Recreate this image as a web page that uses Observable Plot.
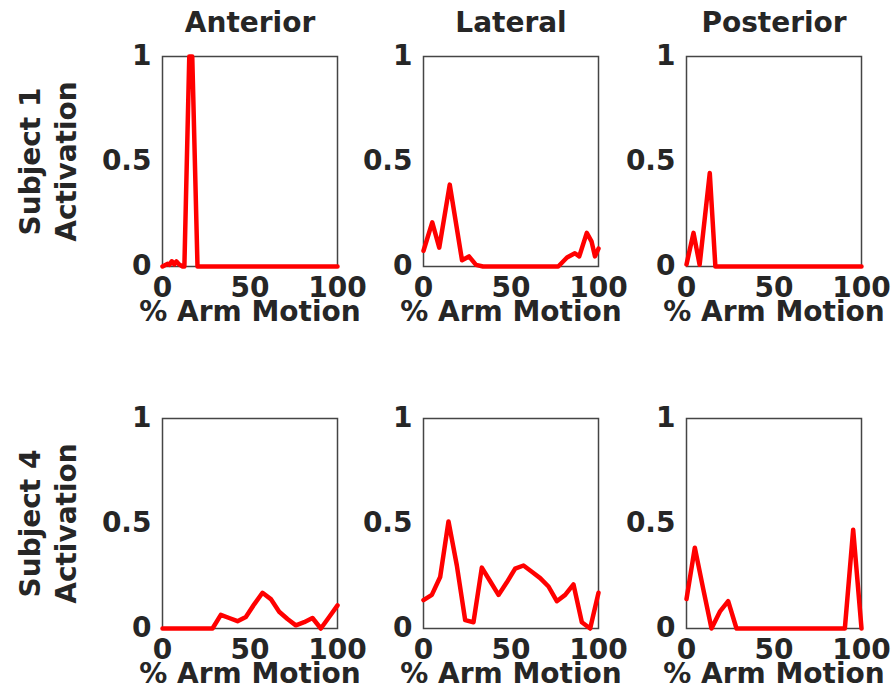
<!DOCTYPE html>
<html>
<head>
<meta charset="utf-8">
<script src="https://cdn.jsdelivr.net/npm/d3@7"></script>
<script src="https://cdn.jsdelivr.net/npm/@observablehq/plot@0.6"></script>
<style>
  html, body { margin: 0; padding: 0; background: #fff; }
  #chart { position: relative; width: 895px; height: 689px; overflow: hidden; }
  #chart svg { position: absolute; }
</style>
</head>
<body>
<div id="chart"></div>
<script>
// Column titles and row labels
const muscles = ["Anterior", "Lateral", "Posterior"];
const subjects = ["Subject 1", "Subject 4"];
const xTicks = [0, 50, 100];
const yTicks = [0, 0.5, 1];
const xLabel = "% Arm Motion";

// Subject 1 (irregular sampling)
const s1AntX = [0, 3, 4, 5.3, 6.7, 8, 9.5, 11.5, 12.5, 15.3, 17, 20, 100];
const s1AntY = [0, 0.013, 0.008, 0.025, 0.01, 0.024, 0.01, 0, 0, 1, 1, 0, 0];
const s1LatX = [0, 5, 9, 15, 22, 26, 30, 34, 77, 82, 86.5, 89, 93.3, 96, 98, 100];
const s1LatY = [0.075, 0.21, 0.09, 0.39, 0.03, 0.048, 0.008, 0, 0, 0.043, 0.063, 0.048, 0.16, 0.12, 0.048, 0.085];
const s1PostX = [0, 4, 7.5, 13.3, 16.5, 100];
const s1PostY = [0.01, 0.16, 0.008, 0.445, 0, 0];

// Subject 4 (22 samples across the motion)
const s4X = [0, 4.76, 9.52, 14.29, 19.05, 23.81, 28.57, 33.33, 38.10, 42.86, 47.62, 52.38, 57.14, 61.90, 66.67, 71.43, 76.19, 80.95, 85.71, 90.48, 95.24, 100];
const s4AntY = [0, 0, 0, 0, 0, 0, 0, 0.065, 0.05, 0.035, 0.055, 0.115, 0.17, 0.14, 0.08, 0.045, 0.015, 0.03, 0.05, 0, 0.055, 0.11];
const s4LatY = [0.135, 0.16, 0.245, 0.51, 0.3, 0.04, 0.03, 0.29, 0.225, 0.16, 0.22, 0.285, 0.30, 0.27, 0.24, 0.2, 0.13, 0.16, 0.21, 0.03, 0, 0.17];
const s4PostY = [0.14, 0.385, 0.19, 0, 0.08, 0.13, 0, 0, 0, 0, 0, 0, 0, 0, 0, 0, 0, 0, 0, 0, 0.47, 0];

const series = [
  [[s1AntX, s1AntY], [s1LatX, s1LatY], [s1PostX, s1PostY]],
  [[s4X, s4AntY], [s4X, s4LatY], [s4X, s4PostY]]
];

const frameLefts = [162, 423, 686];
const frameTops = [56, 418];
const frameW = 175, frameH = 210;
const mTop = 56, mBottom = 62, mRight = 33, mLeftInner = 70;
const font = "'DejaVu Sans', Verdana, sans-serif";
const fs = 28;

const chart = document.getElementById("chart");

for (let r = 0; r < 2; r++) {
  for (let c = 0; c < 3; c++) {
    const [xs, ys] = series[r][c];
    const data = xs.map((x, i) => ({x, y: ys[i]}));
    const ml = c === 0 ? frameLefts[0] : mLeftInner;
    const left = frameLefts[c] - ml;
    const top = frameTops[r] - mTop;
    const marks = [
      Plot.frame({stroke: "#454545", strokeWidth: 1.5}),
      Plot.axisX({ticks: xTicks, tickSize: 0, tickPadding: 11, fontSize: fs, fontWeight: "bold", label: null, tickFormat: d => String(d)}),
      Plot.axisY({ticks: yTicks, tickSize: 0, tickPadding: 11, fontSize: fs, fontWeight: "bold", label: null, tickFormat: d => String(d)}),
      Plot.line(data, {x: "x", y: "y", stroke: "#ff0000", strokeWidth: 4.5, strokeLinejoin: "round"}),
      Plot.text([xLabel], {text: d => d, frameAnchor: "bottom", lineAnchor: "top", dy: 35, fontSize: fs, fontWeight: "bold"})
    ];
    if (r === 0) {
      marks.push(Plot.text([muscles[c]], {text: d => d, frameAnchor: "top", lineAnchor: "top", dy: -44, fontSize: fs, fontWeight: "bold"}));
    }
    if (c === 0) {
      marks.push(Plot.text([subjects[r] + "\nActivation"], {text: d => d, frameAnchor: "left", rotate: -90, dx: -116, textAnchor: "middle", lineAnchor: "middle", lineHeight: 1.3, fontSize: fs, fontWeight: "bold"}));
    }
    const svg = Plot.plot({
      width: ml + frameW + mRight,
      height: mTop + frameH + mBottom,
      marginLeft: ml,
      marginRight: mRight,
      marginTop: mTop,
      marginBottom: mBottom,
      x: {domain: [0, 100]},
      y: {domain: [0, 1]},
      style: {fontFamily: font, fontWeight: "bold", color: "#262626", background: "transparent", overflow: "visible"},
      marks
    });
    svg.style.left = left + "px";
    svg.style.top = top + "px";
    chart.appendChild(svg);
  }
}
</script>
</body>
</html>
